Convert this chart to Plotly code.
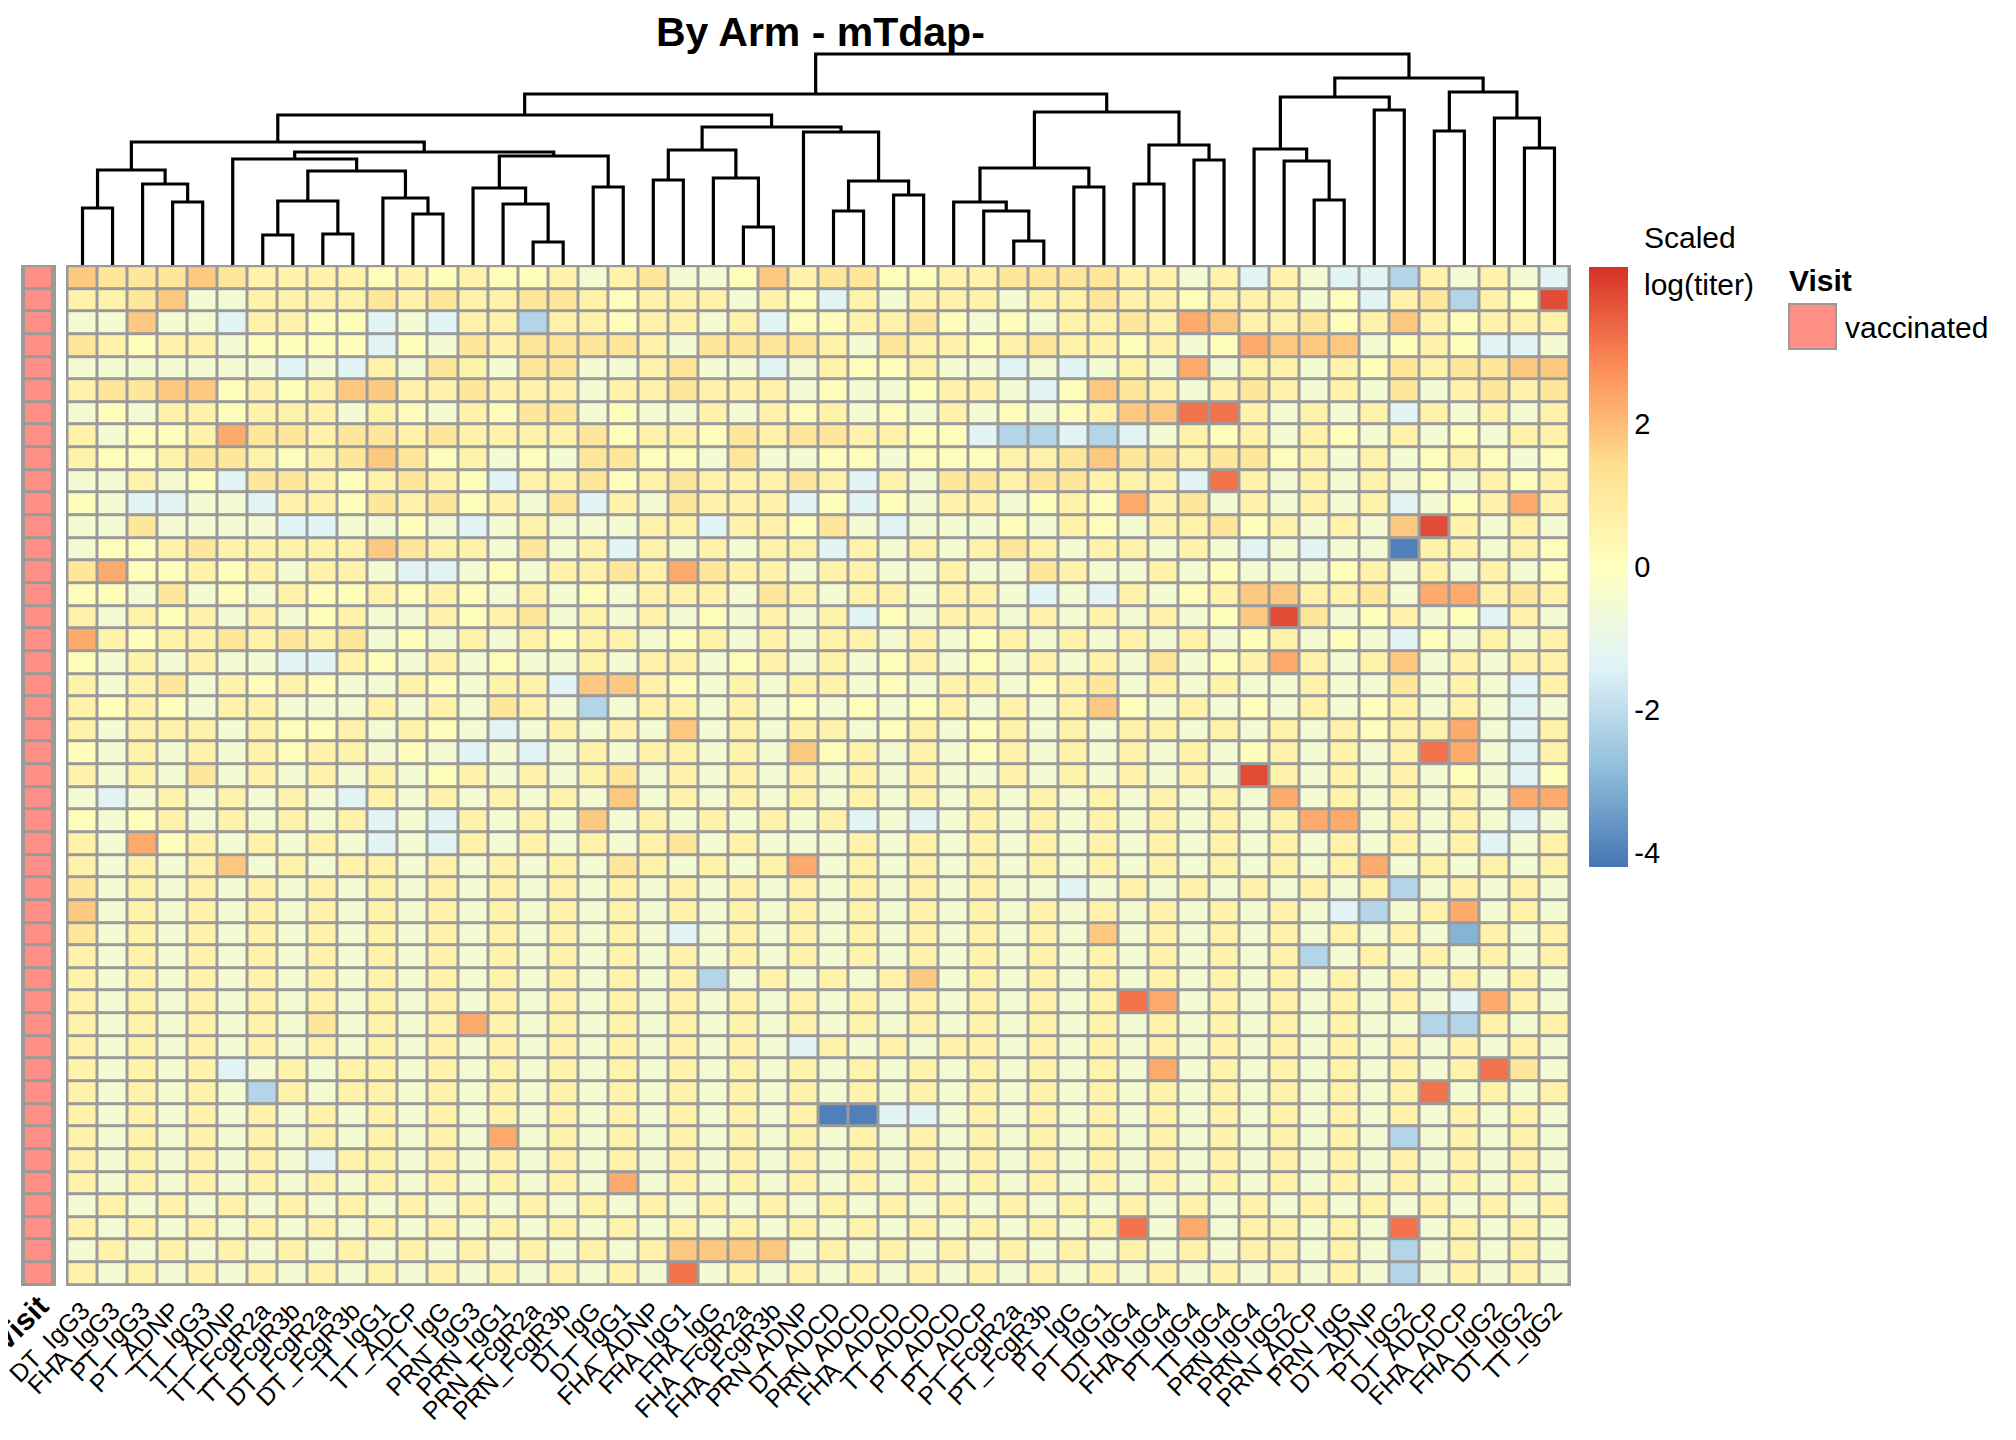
import plotly.graph_objects as go

title = "By Arm - mTdap-"
features = ["DT_IgG3","FHA_IgG3","PT_IgG3","PT_ADNP","TT_IgG3","TT_ADNP","TT_FcgR2a","TT_FcgR3b",
            "DT_FcgR2a","DT_FcgR3b","TT_IgG1","TT_ADCP","TT_IgG","PRN_IgG3","PRN_IgG1","PRN_FcgR2a",
            "PRN_FcgR3b","DT_IgG","DT_IgG1","FHA_ADNP","FHA_IgG1","FHA_IgG","FHA_FcgR2a","FHA_FcgR3b",
            "PRN_ADNP","DT_ADCD","PRN_ADCD","FHA_ADCD","TT_ADCD","PT_ADCD","PT_ADCP","PT_FcgR2a",
            "PT_FcgR3b","PT_IgG","PT_IgG1","DT_IgG4","FHA_IgG4","PT_IgG4","TT_IgG4","PRN_IgG4",
            "PRN_IgG2","PRN_ADCP","PRN_IgG","DT_ADNP","PT_IgG2","DT_ADCP","FHA_ADCP","FHA_IgG2",
            "DT_IgG2","TT_IgG2"]

# cell levels (one string per sample row, one char per feature)
level_values = {"A": -4.0, "B": -3.0, "C": -2.2, "D": -1.3, "e": -0.5, "0": 0.1, "1": 0.6,
                "2": 1.1, "3": 1.8, "4": 2.3, "5": 3.2, "6": 3.8}
rows = [
 "3222321111 0101001e12 ee03122001 1222211e1D 1eDDC1e1eD",
 "1123ee1111 2121122101 11e10D1e11 1e11211011 1e0D12C106",
 "ee3eeD1100 DeD11C1101 1e1D001120 e0e1121431 1201310111",
 "21011e0000 D0e2122221 e22221e211 0121101e04 333e010DDe",
 "eeeeeeeDeD 1e21e22ee1 2eeDe1001e eDeDe1e4e1 1e10212233",
 "1223301013 3112111e11 2111e0ee01 1eD0321e12 1e1e2e1212",
 "e0e110111e 10e1022e0e e1e101e0e1 e0e0133551 e1e1D1e1e1",
 "1e00142212 2121111201 1021221100 DCCDCDe101 e10e1e0e11",
 "1001221012 3201e0e220 0e2ee00e00 0112322122 01e1e010e0",
 "ee1e0D2210 1210D11201 211121D1e2 2122111D51 e1e1e0e101",
 "0eDDeeD110 21201e2D1e 2111D0D0e1 1e010412e1 e1e1De0141",
 "ee2eeeeDDe e0eDe1eee1 1D1102eDee e0e10e1120 1e1e361e1e",
 "e001211111 3211e2e1D1 e1e11D1e1e 121e11e1eD eDeeA11e10",
 "2400101e11 eDDe0e1121 4211e11ee1 ee21ee1e0e ee01e1e1e0",
 "00e2e0e100 1010e1e0e1 11e21e11e1 1eDeD1e013 3112e44121",
 "1e101e1e01 ee1012e1e1 e0e1e1D0e1 1e1e1e1e03 62e01e0D1e",
 "4101121212 e0e1e1011e 01e1e11e1e 01e1e1e1e0 1e0eD0e1e1",
 "0e1e1eeDD1 0e1e0ee1e1 1e01e1e01e 0e1e1e2e01 41e13e1e11",
 "1e12e1010e e10e11D331 0e1e11e0e1 1e012e1e1e e1ee2e1eD1",
 "1010e11eee 1e1e21eCe1 1e1e0e0e01 e1e130e1e0 e1e01e1eDe",
 "1e111e1001 e10eDe1e1e 3e1e11e01e 01e1e11e1e 1e10114eD1",
 "0e1e1e1011 e0eDeDe1e1 1e1e301e1e 01e1e1e1e0 1e1e154eD1",
 "1e1e2e1e1e 1e01e1e12e 1e1e1e1e1e e1e1e1e1e6 1e1e1e0eD0",
 "eDe1e1e1eD 1e1e1e1e3e 1e1e1e1e1e 1e1e1e1e1e 4e1e1e1e44",
 "0e01e1e1e1 DeD1e1e3e1 e1e1e1DeDe 1e1e1e1e1e 144e1e1eDe",
 "1e401e1e1e DeD1e1e1e1 2e1eee1e1e 1e1e1e1e1e 1e1e1e1De1",
 "1e1e13e1e1 1e1e1e1e21 e1e14e1e1e 1e1e1e1e1e 1e14e1e1e1",
 "2e1e1e1e1e 1e1e1e1e1e 1e1e1e1e1e 1eeDe1e1e1 e1e1Ce1e1e",
 "3e1e1e1e1e 1e1e1e1e1e 1e1e1e1e1e 1e1e1e1e1e 1eDCe14e1e",
 "2e1e1e1e1e 1e1e1e1e1e De1e1e1e1e 1e1e3e1e1e 1e1e1eB1e1",
 "1e1e1e1e1e 1e1e1e1e1e 1e1e1e1e1e 1e1e1e1e1e 1Ce1e1e1e1",
 "1e1e1e1e1e 1e1e1e1e1e 1Ce1e1e13e 1e1e1e1e1e 1e1e1e1e1e",
 "1e1e1e1e1e 1e1e1e1e1e 1e1e1e1e1e 1e1e154e1e 1e1e1eD41e",
 "1e1e1e1e2e 1e141e1e1e 1e1e1e1e1e 1e1e1e1e1e 1e1eeCC1e1",
 "1e1e1e1e1e 1e1e1e1e1e 1e1eD1e1e1 1e1e1e1e1e 1e1e1e1e1e",
 "1e1e1De1e1 1e1e1e1e1e 1e1e1e1e1e 1e1e1e4e1e 1e1e1e152e",
 "1e1e1eC1e1 1e1e1e1e1e 1e1e1e1e1e 1e1e1e1e1e 1e1e15e1e1",
 "1e1e1e1e1e 1e1e1e1e1e 1e1e1AADDe 1e1e1e1e1e 1e1e1e1e1e",
 "1e1e1e1e1e 1e1e4e1e1e 1e1e1e1e1e 1e1e1e1e1e 1e1eCe1e1e",
 "1e1e1e1eD1 1e1e1e1e1e 1e1e1e1e1e 1e1e1e1e1e 1e1e1e1e1e",
 "1e1e1e1e1e 1e1e1e1e4e 1e1e1e1e1e 1e1e1e1e1e 1e1e1e1e1e",
 "e1e1e1e1e1 e1e1e1e1e1 e1e1e1e1e1 e1e1e1e1e1 e1e1e1e1e1",
 "1e1e1e1e1e 1e1e1e1e1e 1e1e1e1e1e 1e1e15e4e1 1e1e5e1e1e",
 "e1e1e1e1e1 e1e1e1e1e1 3333e1e1e1 e1e1e1e1e1 1e1eCe1e1e",
 "1e1e1e1e1e 1e1e1e1e1e 5e1e1e1e1e 1e1e1e1e1e 1e1eCe1e1e",
]
visit_label = "vaccinated"

# dendrogram merges: (left cluster, right cluster, merge height in px above grid top)
merges = [
 ((1,), (2,), 57), ((4,), (5,), 63), ((3,), (4,5), 81), ((1,2), (3,4,5), 95),
 ((7,), (8,), 30), ((9,), (10,), 31), ((7,8), (9,10), 64),
 ((12,), (13,), 51), ((11,), (12,13), 67), ((7,8,9,10), (11,12,13), 94),
 ((6,), tuple(range(7,14)), 106),
 ((16,), (17,), 23), ((15,), (16,17), 61), ((14,), (15,16,17), 77), ((18,), (19,), 78),
 ((14,15,16,17), (18,19), 109), (tuple(range(6,14)), tuple(range(14,20)), 113),
 (tuple(range(1,6)), tuple(range(6,20)), 123),
 ((20,), (21,), 85), ((23,), (24,), 38), ((22,), (23,24), 87), ((20,21), (22,23,24), 115),
 ((26,), (27,), 54), ((28,), (29,), 70), ((26,27), (28,29), 84), ((25,), (26,27,28,29), 133),
 (tuple(range(20,25)), tuple(range(25,30)), 138), (tuple(range(1,20)), tuple(range(20,30)), 150),
 ((32,), (33,), 24), ((31,), (32,33), 54), ((30,), (31,32,33), 63), ((34,), (35,), 78),
 ((30,31,32,33), (34,35), 97), ((36,), (37,), 81), ((38,), (39,), 105), ((36,37), (38,39), 120),
 (tuple(range(30,36)), tuple(range(36,40)), 153), (tuple(range(1,30)), tuple(range(30,40)), 171),
 ((42,), (43,), 65), ((41,), (42,43), 104), ((40,), (41,42,43), 116), ((44,), (45,), 155),
 ((40,41,42,43), (44,45), 168), ((46,), (47,), 134), ((49,), (50,), 117), ((48,), (49,50), 147),
 ((46,47), (48,49,50), 173), (tuple(range(40,46)), tuple(range(46,51)), 187),
 (tuple(range(1,40)), tuple(range(40,51)), 211),
]

z = []
for r in rows:
    s = r.replace(" ", "")
    s = (s + "1" * 50)[:50]
    z.append([level_values[c] for c in s])
nrow = len(z)

W, H = 2016, 1440
gx0, gx1, gy0, gy1 = 58, 1563, 257, 1278
vx0, vx1 = 13, 48
GRAY = "#9a9a9a"
def dx(p): return p / W
def dy(p): return 1 - p / H

pal = ["#4575B4", "#91BFDB", "#E0F3F8", "#FFFFBF", "#FEE090", "#FC8D59", "#D73027"]
cs = [[i / 6, c] for i, c in enumerate(pal)]

fig = go.Figure()
fig.add_trace(go.Heatmap(
    z=z, x=list(range(50)), y=list(range(nrow)), colorscale=cs, zmin=-4.2, zmax=4.2,
    xgap=3, ygap=3, hoverinfo="skip",
    colorbar=dict(thickness=39, len=600, lenmode="pixels", x=dx(1581), xanchor="left",
                  y=dy(259), yanchor="top", ticks="", outlinewidth=0,
                  tickvals=[-4, -2, 0, 2], ticktext=["-4", "-2", "0", "2"],
                  tickfont=dict(family="Liberation Sans", size=29, color="black"), ypad=0, xpad=0)))
fig.add_trace(go.Heatmap(
    z=[[1] for _ in range(nrow)], x=[0], y=list(range(nrow)), colorscale=[[0, "#FF8F86"], [1, "#FF8F86"]],
    showscale=False, xgap=3, ygap=3, hoverinfo="skip", xaxis="x2", yaxis="y2"))

# dendrogram
pos = {}
heights = {}
for i in range(1, 51):
    pos[(i,)] = i - 1
    heights[(i,)] = 0
xs, ys = [], []
for a, b, h in merges:
    key = tuple(sorted(a + b))
    xa, xb = pos[a], pos[b]
    xs += [xa, xa, xb, xb, None]
    ys += [heights[a], h, h, heights[b], None]
    pos[key] = (xa + xb) / 2
    heights[key] = h
fig.add_trace(go.Scatter(x=xs, y=ys, mode="lines", line=dict(color="black", width=3.2),
                         xaxis="x3", yaxis="y3", hoverinfo="skip", showlegend=False))

lab_font = dict(family="Liberation Sans", size=25, color="black")
fig.update_layout(
    width=W, height=H, margin=dict(l=0, r=0, t=0, b=0, autoexpand=False), paper_bgcolor="white",
    plot_bgcolor="white", showlegend=False,
    xaxis=dict(domain=[dx(gx0), dx(gx1)], range=[-0.55, 49.55], tickvals=list(range(50)),
               ticktext=features, tickangle=-45, tickfont=lab_font, showgrid=False, zeroline=False,
               ticks="", anchor="y", automargin=False, ticklabelstandoff=4, ticklabeloverflow="allow"),
    yaxis=dict(domain=[dy(gy1), dy(gy0)], range=[nrow - 0.45, -0.55], showticklabels=False,
               showgrid=False, zeroline=False, automargin=False),
    xaxis2=dict(domain=[dx(vx0), dx(vx1)], range=[-0.6, 0.6], showticklabels=False,
                showgrid=False, zeroline=False, anchor="y2", automargin=False),
    yaxis2=dict(domain=[dy(gy1), dy(gy0)], range=[nrow - 0.45, -0.55], showticklabels=False,
                showgrid=False, zeroline=False, anchor="x2", automargin=False),
    xaxis3=dict(domain=[dx(gx0), dx(gx1)], range=[-0.55, 49.55], visible=False, anchor="y3",
                automargin=False),
    yaxis3=dict(domain=[dy(gy0), dy(gy0 - 213)], range=[0, 213], visible=False, anchor="x3",
                automargin=False),
)
# gray cell borders behind the heatmaps
for x0, x1 in [(gx0, gx1), (vx0, vx1)]:
    fig.add_shape(type="rect", xref="paper", yref="paper", x0=dx(x0), x1=dx(x1), y0=dy(gy1), y1=dy(gy0),
                  fillcolor=GRAY, line=dict(width=0), layer="below")
fig.add_annotation(x=dx(12), y=dy(1315), xref="paper", yref="paper", text="<b>Visit</b>", textangle=-45,
                   xanchor="center", yanchor="middle", showarrow=False,
                   font=dict(family="Liberation Sans", size=30, color="black"))
fig.add_annotation(x=dx(812), y=dy(24), xref="paper", yref="paper", text="<b>" + title + "</b>",
                   showarrow=False, yanchor="middle", font=dict(family="Liberation Sans", size=41, color="black"))
for txt, yy in [("Scaled", 211), ("log(titer)", 258)]:
    fig.add_annotation(x=dx(1634), y=dy(yy), xref="paper", yref="paper", text=txt, showarrow=False,
                       xanchor="left", font=dict(family="Liberation Sans", size=30, color="black"))
fig.add_annotation(x=dx(1779), y=dy(254), xref="paper", yref="paper", text="<b>Visit</b>",
                   showarrow=False, xanchor="left", font=dict(family="Liberation Sans", size=30, color="black"))
fig.add_shape(type="rect", xref="paper", yref="paper", x0=dx(1781), x1=dx(1828), y0=dy(296), y1=dy(341),
              fillcolor="#FF8F86", line=dict(color=GRAY, width=2))
fig.add_annotation(x=dx(1835), y=dy(301), xref="paper", yref="paper", text=visit_label,
                   showarrow=False, xanchor="left", font=dict(family="Liberation Sans", size=30, color="black"))

fig.write_html("out.html")
